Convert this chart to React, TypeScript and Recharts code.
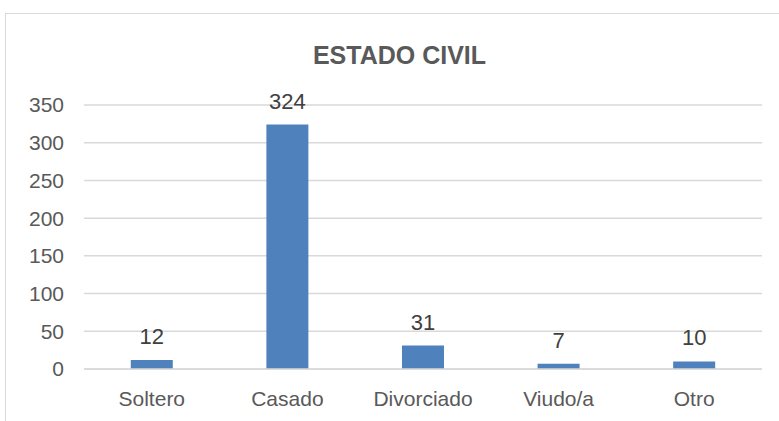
import React from "react";
import { BarChart, Bar, XAxis, YAxis, CartesianGrid, LabelList } from "recharts";

const categories = ["Soltero", "Casado", "Divorciado", "Viudo/a", "Otro"];
const values = [12, 324, 31, 7, 10];
const yTicks = [0, 50, 100, 150, 200, 250, 300, 350];
const title = "ESTADO CIVIL";

const data = categories.map((name, i) => ({ name, value: values[i] }));

const FONT = "'Liberation Sans', Arial, sans-serif";

export default function App() {
  return (
    <div style={{ position: "absolute", left: 0, top: 0, width: 779, height: 421, overflow: "hidden", background: "#fff", fontFamily: FONT }}>
      <div style={{ position: "absolute", left: 5, top: 13, width: 820, height: 460, border: "1px solid #d9d9d9", boxSizing: "border-box" }} />
      <div style={{ position: "absolute", left: 0, width: 799, top: 40, textAlign: "center", fontSize: 25, fontWeight: "bold", color: "#595959", lineHeight: "30px" }}>
        {title}
      </div>
      <div style={{ position: "absolute", left: 0, top: 0 }}>
        <BarChart width={779} height={421} data={data} margin={{ top: 105, right: 17, bottom: 0, left: 0 }} barCategoryGap="34.5%">
          <CartesianGrid vertical={false} stroke="#d9d9d9" strokeWidth={1.5} />
          <XAxis
            dataKey="name"
            height={52}
            axisLine={{ stroke: "#d9d9d9", strokeWidth: 1.5 }}
            tickLine={false}
            tickSize={0}
            tickMargin={22}
            tick={{ fill: "#595959", fontSize: 21, fontFamily: FONT }}
            interval={0}
          />
          <YAxis
            width={84}
            domain={[0, 350]}
            ticks={yTicks}
            axisLine={false}
            tickLine={false}
            tickSize={0}
            tickMargin={20}
            tick={{ fill: "#595959", fontSize: 21, fontFamily: FONT }}
          />
          <Bar dataKey="value" fill="#4F81BD" isAnimationActive={false}>
            <LabelList dataKey="value" position="top" offset={16} style={{ fill: "#404040", fontSize: 22, fontFamily: FONT }} />
          </Bar>
        </BarChart>
      </div>
    </div>
  );
}
